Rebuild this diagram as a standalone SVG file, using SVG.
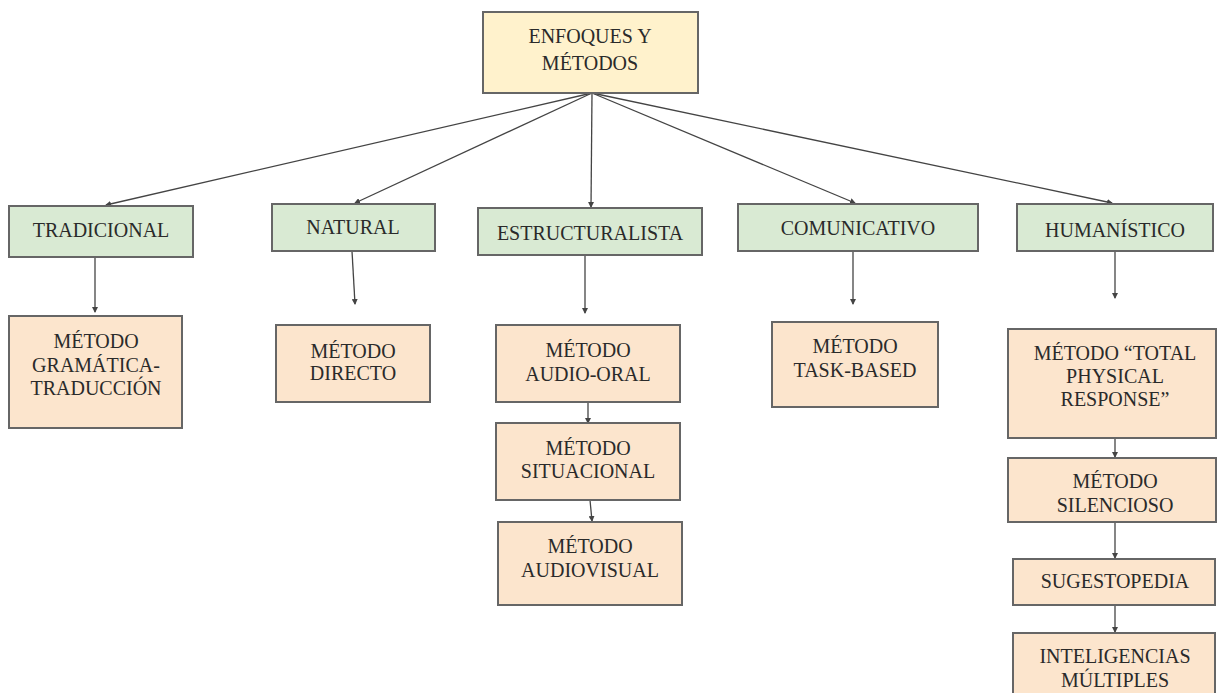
<svg xmlns="http://www.w3.org/2000/svg" width="1218" height="693" viewBox="0 0 1218 693">
<defs>
<marker id="ah" markerWidth="6" markerHeight="6" refX="5" refY="3" orient="auto" markerUnits="userSpaceOnUse">
<path d="M0,0 L6,3 L0,6 Z" fill="#444"/>
</marker>
<style>
.box{stroke:#666;stroke-width:2}
.top{fill:#fff2cc}
.grn{fill:#d9ead3}
.org{fill:#fce5cd}
text{font-family:"Liberation Serif","Times New Roman",serif;font-size:20px;fill:#2a2a2a;text-anchor:middle}
.c line{stroke:#444;stroke-width:1.3;marker-end:url(#ah)}
</style>
</defs>
<rect width="1218" height="693" fill="#fff"/>
<g class="c" id="connectors">
<line x1="592" y1="93" x2="106" y2="205"/>
<line x1="592" y1="93" x2="355" y2="203"/>
<line x1="592" y1="93" x2="591" y2="207"/>
<line x1="592" y1="93" x2="855" y2="203"/>
<line x1="592" y1="93" x2="1112" y2="203"/>
<line x1="95" y1="257" x2="95" y2="312"/>
<line x1="352" y1="251" x2="355" y2="304"/>
<line x1="585" y1="255" x2="585" y2="313"/>
<line x1="853" y1="251" x2="853" y2="304"/>
<line x1="1115" y1="242" x2="1115" y2="298"/>
<line x1="588" y1="402" x2="588" y2="423"/>
<line x1="590" y1="500" x2="592" y2="521"/>
<line x1="1115" y1="438" x2="1115" y2="457"/>
<line x1="1115" y1="522" x2="1115" y2="558"/>
<line x1="1115" y1="605" x2="1115" y2="632"/>
</g>
<g id="enfoques"><rect class="box top" x="483" y="12" width="215" height="81"/><text x="590" y="43">ENFOQUES Y</text><text x="590" y="70">MÉTODOS</text></g>
<g id="tradicional"><rect class="box grn" x="9" y="206" width="184" height="51"/><text x="101" y="237">TRADICIONAL</text></g>
<g id="natural"><rect class="box grn" x="272" y="204" width="163" height="47"/><text x="353" y="234">NATURAL</text></g>
<g id="estructuralista"><rect class="box grn" x="478" y="208" width="224" height="47"/><text x="590" y="240">ESTRUCTURALISTA</text></g>
<g id="comunicativo"><rect class="box grn" x="738" y="204" width="240" height="47"/><text x="858" y="235">COMUNICATIVO</text></g>
<g id="humanistico"><rect class="box grn" x="1017" y="204" width="196" height="47"/><text x="1115" y="237">HUMANÍSTICO</text></g>
<g id="gramatica"><rect class="box org" x="9" y="316" width="173" height="112"/><text x="96" y="348">MÉTODO</text><text x="96" y="372">GRAMÁTICA-</text><text x="96" y="395">TRADUCCIÓN</text></g>
<g id="directo"><rect class="box org" x="276" y="325" width="154" height="77"/><text x="353" y="358">MÉTODO</text><text x="353" y="380">DIRECTO</text></g>
<g id="audiooral"><rect class="box org" x="496" y="325" width="184" height="77"/><text x="588" y="357">MÉTODO</text><text x="588" y="381">AUDIO-ORAL</text></g>
<g id="situacional"><rect class="box org" x="496" y="423" width="184" height="77"/><text x="588" y="455">MÉTODO</text><text x="588" y="478">SITUACIONAL</text></g>
<g id="audiovisual"><rect class="box org" x="498" y="522" width="184" height="83"/><text x="590" y="553">MÉTODO</text><text x="590" y="577">AUDIOVISUAL</text></g>
<g id="taskbased"><rect class="box org" x="772" y="322" width="166" height="85"/><text x="855" y="353">MÉTODO</text><text x="855" y="377">TASK-BASED</text></g>
<g id="tpr"><rect class="box org" x="1008" y="329" width="208" height="109"/><text x="1115" y="360">MÉTODO “TOTAL</text><text x="1115" y="383">PHYSICAL</text><text x="1115" y="406">RESPONSE”</text></g>
<g id="silencioso"><rect class="box org" x="1008" y="458" width="208" height="64"/><text x="1115" y="488">MÉTODO</text><text x="1115" y="512">SILENCIOSO</text></g>
<g id="sugestopedia"><rect class="box org" x="1013" y="559" width="202" height="46"/><text x="1115" y="588">SUGESTOPEDIA</text></g>
<g id="inteligencias"><rect class="box org" x="1013" y="633" width="202" height="70"/><text x="1115" y="663">INTELIGENCIAS</text><text x="1115" y="687">MÚLTIPLES</text></g>
</svg>
